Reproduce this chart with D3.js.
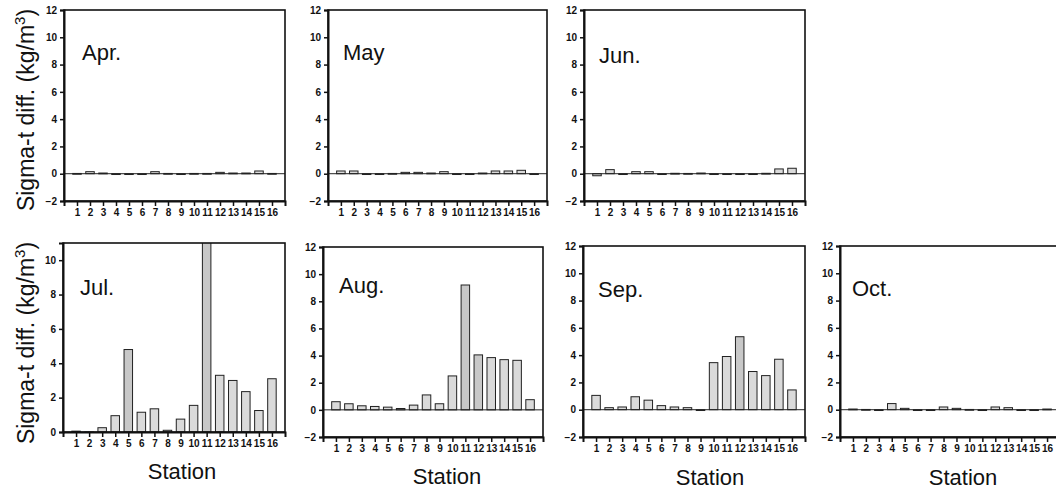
<!DOCTYPE html>
<html><head><meta charset="utf-8">
<script src="https://cdn.jsdelivr.net/npm/d3@7"></script>
<style>body{margin:0;background:#fff}svg{display:block}</style>
</head><body>
<svg id="c" width="1056" height="490"></svg>
<script>
const stations = [1,2,3,4,5,6,7,8,9,10,11,12,13,14,15,16];
const months = ["Apr.","May","Jun.","Jul.","Aug.","Sep.","Oct."];
const aprVals = [0.02,0.15,0.05,0,0,0,0.15,0.02,0,0.02,0.02,0.1,0.05,0.05,0.2,0.02];
const mayVals = [0.2,0.2,-0.02,0,0.02,0.1,0.1,0.05,0.15,0,-0.02,0.05,0.2,0.2,0.25,0];
const junVals = [-0.15,0.3,0,0.15,0.15,0,0.03,0.02,0.05,-0.05,0,0,0,0.03,0.35,0.4];
const julVals = [0.05,0,0.25,0.95,4.8,1.15,1.35,0.1,0.75,1.55,11.5,3.3,3.0,2.35,1.25,3.1];
const augVals = [0.6,0.45,0.3,0.25,0.2,0.1,0.35,1.1,0.45,2.5,9.2,4.05,3.85,3.7,3.65,0.75];
const sepVals = [1.05,0.15,0.2,0.95,0.7,0.3,0.2,0.15,0,3.45,3.9,5.35,2.8,2.5,3.7,1.45];
const octVals = [0.05,0.02,0,0.45,0.1,0,0,0.2,0.1,0.02,0,0.2,0.15,-0.05,0,0.05];
const yTicksFull = [-2,0,2,4,6,8,10,12];
const yTicksJul = [0,2,4,6,8,10];
const yLabel = "Sigma-t diff. (kg/m";
const xLabel = "Station";

const svg = d3.select("#c");
const FONT = "Arial, 'Liberation Sans', sans-serif";

// layout (positions only)
const panels = [
  {m:0, vals:aprVals, l:64,  r:285,  t:10,  b:201, dom:[-2,12], ticks:yTicksFull, lx:82,  ly:60,  station:null},
  {m:1, vals:mayVals, l:328, r:547,  t:10,  b:201, dom:[-2,12], ticks:yTicksFull, lx:343, ly:60,  station:null},
  {m:2, vals:junVals, l:584, r:805,  t:10,  b:201, dom:[-2,12], ticks:yTicksFull, lx:599, ly:63,  station:null},
  {m:3, vals:julVals, l:63,  r:285,  t:243, b:432, dom:[0,11],  ticks:yTicksJul,  lx:80,  ly:295, station:[182,479]},
  {m:4, vals:augVals, l:323, r:543,  t:247, b:437, dom:[-2,12], ticks:yTicksFull, lx:339, ly:293, station:[447,484]},
  {m:5, vals:sepVals, l:583, r:805,  t:246, b:437, dom:[-2,12], ticks:yTicksFull, lx:598, ly:297, station:[710,485]},
  {m:6, vals:octVals, l:840, r:1060, t:246, b:437, dom:[-2,12], ticks:yTicksFull, lx:852, ly:296, station:[963,485]}
];

panels.forEach((p,i)=>{
  const g = svg.append("g");
  const x = d3.scaleLinear().domain([0,17]).range([p.l,p.r]);
  const y = d3.scaleLinear().domain(p.dom).range([p.b,p.t]);
  const clipId = "clip"+i;
  svg.append("clipPath").attr("id",clipId).append("rect")
    .attr("x",p.l).attr("y",p.t).attr("width",p.r-p.l).attr("height",p.b-p.t);

  // bars
  const bw = 8.5;
  g.append("g").attr("clip-path",`url(#${clipId})`)
    .selectAll("rect").data(stations).join("rect")
    .attr("x",d=>x(d)-bw/2)
    .attr("y",(d,k)=>Math.min(y(p.vals[k]),y(0)))
    .attr("width",bw)
    .attr("height",(d,k)=>Math.max(Math.abs(y(p.vals[k])-y(0)),0.8))
    .attr("fill",(d,k)=> p.vals[k]>4 ? "#c8c8c8" : "#dadada")
    .attr("stroke","#222").attr("stroke-width",1);

  // zero line
  if (p.dom[0] < 0) {
    g.append("line").attr("x1",p.l).attr("x2",p.r).attr("y1",y(0)).attr("y2",y(0))
      .attr("stroke","#222").attr("stroke-width",1);
  }
  // frame
  g.append("rect").attr("x",p.l).attr("y",p.t).attr("width",p.r-p.l).attr("height",p.b-p.t)
    .attr("fill","none").attr("stroke","#111").attr("stroke-width",1.6);

  // y axis
  const ya = d3.axisLeft(y).tickValues(p.ticks).tickSize(4).tickPadding(3);
  const yg = g.append("g").attr("transform",`translate(${p.l},0)`).call(ya);
  yg.select(".domain").attr("stroke","#111").attr("stroke-width",2);
  yg.selectAll(".tick line").attr("stroke","#111").attr("stroke-width",1.5);
  yg.selectAll("text").attr("font-family",FONT).attr("font-size",10).attr("font-weight","bold").attr("fill","#111");

  // x axis
  const xa = d3.axisBottom(x).tickValues(stations).tickSize(5).tickPadding(3).tickFormat(d3.format("d"));
  const xg = g.append("g").attr("transform",`translate(0,${p.b})`).call(xa);
  xg.select(".domain").attr("stroke","#111").attr("stroke-width",2);
  xg.selectAll(".tick line").attr("stroke","#111").attr("stroke-width",1.5);
  xg.selectAll("text").attr("font-family",FONT).attr("font-size",10).attr("font-weight","bold").attr("fill","#111");

  // month label
  g.append("text").attr("x",p.lx).attr("y",p.ly).text(months[p.m])
    .attr("font-family",FONT).attr("font-size",22).attr("fill","#111");

  if (p.station) {
    g.append("text").attr("x",p.station[0]).attr("y",p.station[1]).attr("text-anchor","middle")
      .text(xLabel).attr("font-family",FONT).attr("font-size",22).attr("fill","#111");
  }
});

// y axis titles
[[34,110],[34,343]].forEach(([cx,cy])=>{
  const t = svg.append("text").attr("transform",`translate(${cx},${cy}) rotate(-90)`)
    .attr("text-anchor","middle").attr("font-family",FONT).attr("font-size",23).attr("fill","#111");
  t.append("tspan").text(yLabel);
  t.append("tspan").text("3").attr("dy",-9).attr("font-size",15);
  t.append("tspan").text(")").attr("dy",9);
});
</script>
</body></html>
